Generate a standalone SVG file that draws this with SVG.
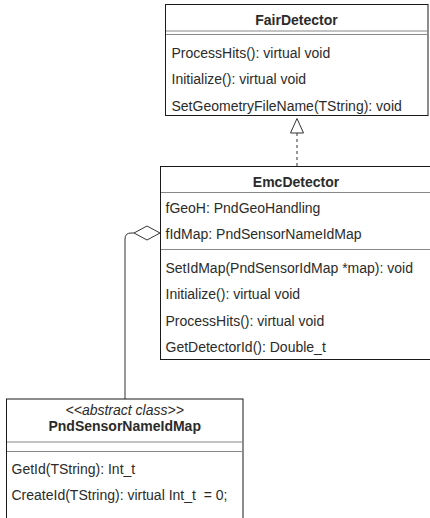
<svg xmlns="http://www.w3.org/2000/svg" width="430" height="518" viewBox="0 0 430 518">
<style>
.box{fill:#fff;stroke:#1a1a1a;stroke-width:1}
.sep{stroke:#888;stroke-width:1;fill:none}
.t{font-family:"Liberation Sans",Arial,Helvetica,sans-serif;font-size:14px;fill:#2b2b2b}
.b{font-weight:bold;text-anchor:middle}
.st{font-style:italic;text-anchor:middle}
.edge{stroke:#333;stroke-width:1;fill:none}
</style>
<rect width="430" height="518" fill="#fff"/>
<g id="connectors">
<line class="edge" x1="297" y1="133" x2="297" y2="166" stroke-dasharray="3,3"/>
<polygon points="297,118.5 290.5,133 303.5,133" fill="#fff" stroke="#333" stroke-width="1"/>
<path class="edge" d="M134,233 L131,233 Q125,233 125,239 L125,399"/>
<polygon points="134,233 147,226 160,233 147,240" fill="#fff" stroke="#333" stroke-width="1"/>
</g>
<g id="FairDetector">
<rect class="box" x="165.5" y="4.5" width="262.5" height="111"/>
<line class="sep" x1="166" y1="31" x2="427.5" y2="31"/>
<line class="sep" x1="166" y1="34.5" x2="427.5" y2="34.5"/>
<text class="t b" x="296.5" y="25">FairDetector</text>
<text class="t" x="171.5" y="58">ProcessHits(): virtual void</text>
<text class="t" x="171.5" y="84.3">Initialize(): virtual void</text>
<text class="t" x="171.5" y="110.6">SetGeometryFileName(TString): void</text>
</g>
<g id="EmcDetector">
<rect class="box" x="160.5" y="166.5" width="275" height="193"/>
<line class="sep" x1="161" y1="192.5" x2="430" y2="192.5"/>
<line class="sep" x1="161" y1="249.5" x2="430" y2="249.5"/>
<text class="t b" x="296" y="187.3">EmcDetector</text>
<text class="t" x="165.5" y="213.3">fGeoH: PndGeoHandling</text>
<text class="t" x="165.5" y="239">fIdMap: PndSensorNameIdMap</text>
<text class="t" x="165.5" y="273.3">SetIdMap(PndSensorIdMap *map): void</text>
<text class="t" x="165.5" y="299.3">Initialize(): virtual void</text>
<text class="t" x="165.5" y="325.6">ProcessHits(): virtual void</text>
<text class="t" x="165.5" y="352">GetDetectorId(): Double_t</text>
</g>
<g id="PndSensorNameIdMap">
<rect class="box" x="6.5" y="399" width="236.5" height="130"/>
<line class="sep" x1="7" y1="442" x2="242.5" y2="442"/>
<line class="sep" x1="7" y1="451.5" x2="242.5" y2="451.5"/>
<text class="t st" x="124.7" y="415">&lt;&lt;abstract class&gt;&gt;</text>
<text class="t b" x="124.7" y="431">PndSensorNameIdMap</text>
<text class="t" x="11.5" y="474">GetId(TString): Int_t</text>
<text class="t" x="11.5" y="500" style="white-space:pre">CreateId(TString): virtual Int_t  = 0;</text>
</g>
</svg>
